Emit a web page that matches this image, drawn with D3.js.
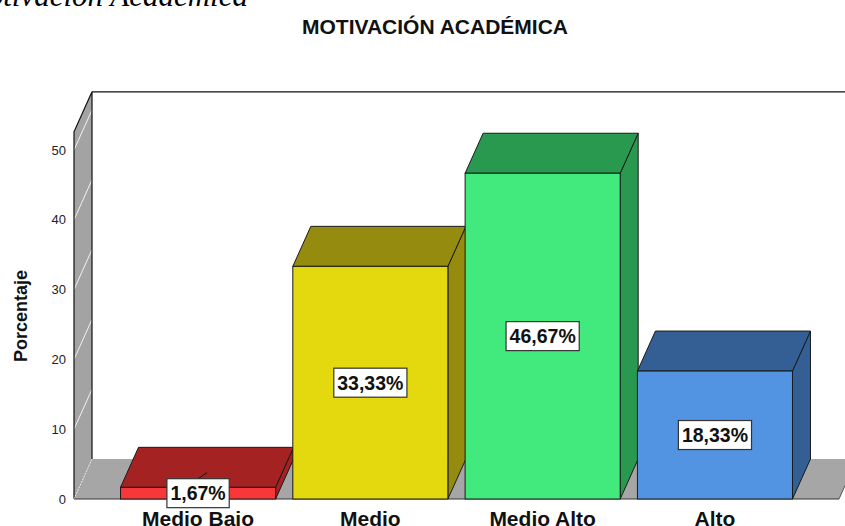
<!DOCTYPE html>
<html>
<head>
<meta charset="utf-8">
<script src="https://cdn.jsdelivr.net/npm/d3@7"></script>
<style>
  html, body { margin: 0; padding: 0; background: #fff; }
  svg { display: block; }
</style>
</head>
<body>
<svg id="chart" width="845" height="526"></svg>
<script>
// ---- data ----
const categories = ["Medio Bajo", "Medio", "Medio Alto", "Alto"];
const values = [1.67, 33.33, 46.67, 18.33];
const valueLabels = ["1,67%", "33,33%", "46,67%", "18,33%"];
const yTicks = [0, 10, 20, 30, 40, 50];
const frontColors = ["#f83838", "#e4d90f", "#42ea7e", "#5294e2"];
const darkColors = ["#a52222", "#958b0e", "#28994f", "#345f94"];
const title = "MOTIVACIÓN ACADÉMICA";
const yTitle = "Porcentaje";
const captionText = "Motivación Académica";

// ---- layout ----
const svg = d3.select("#chart");
const W = 845, H = 526;
const DX = 18, DY = -40;       // 3D depth offset
const yMax = 52.6;
const x = d3.scaleBand().domain(categories).range([74, 839]).paddingInner(0.1).paddingOuter(0.27);
const y = d3.scaleLinear().domain([0, 50]).range([499, 150]);
const x0 = 74, x1 = 839, yB = y(0), yT = y(yMax);

const pts = a => a.map(p => p.join(",")).join(" ");

// caption (cut off at top in the reference)
svg.append("text").attr("x", 248).attr("y", 6).attr("text-anchor", "end")
  .attr("font-family", "'Liberation Serif', 'Times New Roman', serif")
  .attr("font-style", "italic").attr("font-size", 31).attr("fill", "#000")
  .text(captionText);

// title
svg.append("text").attr("x", 435).attr("y", 34).attr("text-anchor", "middle")
  .attr("font-family", "'Liberation Sans', Arial, sans-serif").attr("font-weight", "bold")
  .attr("font-size", 21).attr("fill", "#111").text(title);

// back wall
svg.append("polygon").attr("points", pts([[x0 + DX, yT + DY], [x1 + DX + 20, yT + DY], [x1 + DX + 20, yB + DY], [x0 + DX, yB + DY]]))
  .attr("fill", "#fff");
svg.append("line").attr("x1", x0 + DX).attr("y1", yT + DY).attr("x2", W).attr("y2", yT + DY)
  .attr("stroke", "#111").attr("stroke-width", 1.2);

// left wall
svg.append("polygon").attr("points", pts([[x0, yB], [x0, yT], [x0 + DX, yT + DY], [x0 + DX, yB + DY]]))
  .attr("fill", "#a3a3a3").attr("stroke", "none");
// gridlines on left wall
svg.selectAll("line.wg").data(yTicks.filter(d => d > 0)).enter().append("line").attr("class", "wg")
  .attr("x1", x0).attr("y1", d => y(d)).attr("x2", x0 + DX).attr("y2", d => y(d) + DY)
  .attr("stroke", "#f2f2f2").attr("stroke-width", 1);
svg.append("polyline").attr("points", pts([[x0, yB], [x0, yT], [x0 + DX, yT + DY], [x0 + DX, yB + DY]]))
  .attr("fill", "none").attr("stroke", "#111").attr("stroke-width", 1.2);

// floor
svg.append("polygon").attr("points", pts([[x0, yB], [x1, yB], [x1 + DX, yB + DY], [x0 + DX, yB + DY]]))
  .attr("fill", "#a6a6a6");
svg.append("line").attr("x1", x0).attr("y1", yB).attr("x2", x0 + DX).attr("y2", yB + DY)
  .attr("stroke", "#eee").attr("stroke-width", 1).attr("stroke-dasharray", "1.5,1.5");
svg.append("line").attr("x1", x1).attr("y1", yB).attr("x2", x1 + DX).attr("y2", yB + DY)
  .attr("stroke", "#555").attr("stroke-width", 1);
svg.append("line").attr("x1", x0).attr("y1", yB).attr("x2", x1).attr("y2", yB)
  .attr("stroke", "#333").attr("stroke-width", 1.2);

// y tick labels
svg.selectAll("text.yt").data(yTicks).enter().append("text").attr("class", "yt")
  .attr("x", 66).attr("y", d => y(d)).attr("dy", "0.35em").attr("text-anchor", "end")
  .attr("font-family", "'Liberation Sans', Arial, sans-serif").attr("font-size", 13).attr("fill", "#222")
  .text(d => d);

// y title
svg.append("text").attr("transform", "translate(27,316) rotate(-90)").attr("text-anchor", "middle")
  .attr("font-family", "'Liberation Sans', Arial, sans-serif").attr("font-weight", "bold")
  .attr("font-size", 18).attr("fill", "#111").text(yTitle);

// bars
const data = categories.map((c, i) => ({ c, v: values[i], lab: valueLabels[i], fc: frontColors[i], dc: darkColors[i] }));
const bars = svg.selectAll("g.bar").data(data).enter().append("g").attr("class", "bar");
const stroke = "#1a1a1a";
bars.each(function (d) {
  const g = d3.select(this);
  const L = x(d.c), R = x(d.c) + x.bandwidth(), T = y(d.v), B = y(0);
  // side
  g.append("polygon").attr("points", pts([[R, B], [R, T], [R + DX, T + DY], [R + DX, B + DY]]))
    .attr("fill", d.dc).attr("stroke", stroke).attr("stroke-width", 1).attr("stroke-linejoin", "round");
  // top
  g.append("polygon").attr("points", pts([[L, T], [R, T], [R + DX, T + DY], [L + DX, T + DY]]))
    .attr("fill", d.dc).attr("stroke", stroke).attr("stroke-width", 1).attr("stroke-linejoin", "round");
  // front
  g.append("rect").attr("x", L).attr("y", T).attr("width", R - L).attr("height", B - T)
    .attr("fill", d.fc).attr("stroke", stroke).attr("stroke-width", 1);
});

// value labels
bars.each(function (d) {
  const g = d3.select(this);
  const cx = x(d.c) + x.bandwidth() / 2;
  const cy = (y(d.v) + y(0)) / 2;
  const t = g.append("text").attr("x", cx).attr("y", cy).attr("dy", "0.36em").attr("text-anchor", "middle")
    .attr("font-family", "'Liberation Sans', Arial, sans-serif").attr("font-weight", "bold")
    .attr("font-size", 19.5).attr("fill", "#111").text(d.lab);
  const bb = t.node().getBBox();
  const bw = bb.width + 7, bh = 29;
  if (d.v < 5) {
    g.insert("line", "text").attr("x1", cx).attr("y1", cy - bh / 2).attr("x2", cx + 9).attr("y2", cy - bh / 2 - 6)
      .attr("stroke", "#111").attr("stroke-width", 1);
  }
  g.insert("rect", "text").attr("x", cx - bw / 2).attr("y", cy - bh / 2).attr("width", bw).attr("height", bh)
    .attr("fill", "#fff").attr("stroke", "#333").attr("stroke-width", 1.2);
});

// x category labels
svg.selectAll("text.xl").data(categories).enter().append("text").attr("class", "xl")
  .attr("x", d => x(d) + x.bandwidth() / 2).attr("y", 525.5).attr("text-anchor", "middle")
  .attr("font-family", "'Liberation Sans', Arial, sans-serif").attr("font-weight", "bold")
  .attr("font-size", 21).attr("fill", "#111").text(d => d);
</script>
</body>
</html>
